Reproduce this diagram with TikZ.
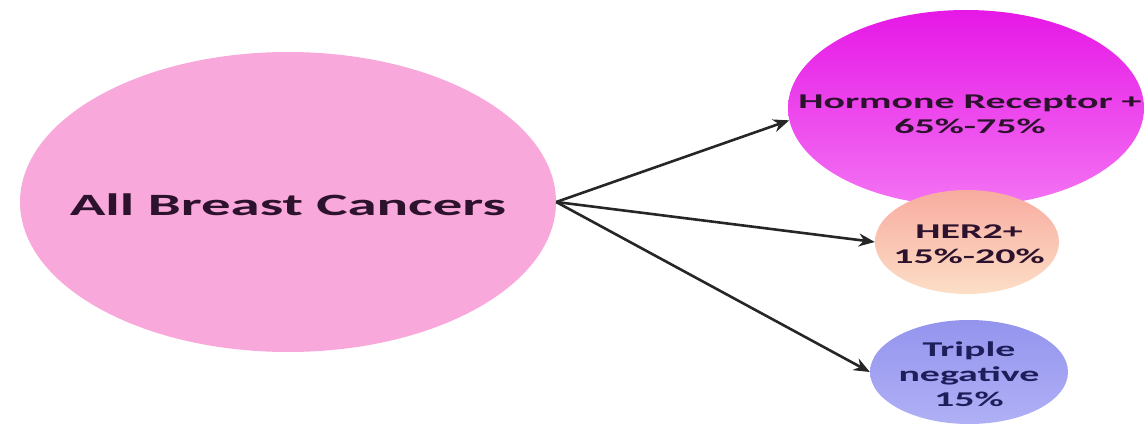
\documentclass[tikz,border=0pt]{standalone}
\usepackage{fontspec}
\setmainfont{Carlito}
\newfontfamily\widefont[FakeStretch=1.9]{Carlito}
\usepackage{xcolor}
\usetikzlibrary{arrows.meta,positioning,shapes.geometric}

\definecolor{allpink}{RGB}{248,168,218}
\definecolor{hrtop}{RGB}{230,24,230}
\definecolor{hrbot}{RGB}{243,115,243}
\definecolor{hertop}{RGB}{248,172,160}
\definecolor{herbot}{RGB}{252,222,198}
\definecolor{tntop}{RGB}{148,148,238}
\definecolor{tnbot}{RGB}{176,176,246}
\definecolor{inkdark}{RGB}{45,18,45}
\definecolor{inkblue}{RGB}{30,30,90}

\begin{document}
\begin{tikzpicture}[x=1pt,y=-1pt,
  blob/.style={ellipse, inner sep=0pt, draw=none},
  big/.style={font=\widefont\bfseries\fontsize{31}{36}\selectfont, text=inkdark},
  small/.style={font=\widefont\bfseries\fontsize{21}{25}\selectfont, align=center, text=inkdark},
  link/.style={draw=black!85, line width=2.6pt, -{Stealth[length=16pt,width=13pt]}}
]
\useasboundingbox (0,0) rectangle (1148,425);

\node[blob, fill=allpink, minimum width=536pt, minimum height=300pt] (all) at (288,202) {};
\node[big] (alltext) at (288,205) {All Breast Cancers};

\node[blob, top color=hrtop, bottom color=hrbot, minimum width=356pt, minimum height=196pt] (hr) at (966,108) {};
\node[small] (hrtext) at (970,114) {Hormone Receptor +\\65\%-75\%};

\node[blob, top color=hertop, bottom color=herbot, minimum width=184pt, minimum height=104pt] (her) at (967,242) {};
\node[small] (hertext) at (969,244) {HER2+\\15\%-20\%};

\node[blob, top color=tntop, bottom color=tnbot, minimum width=198pt, minimum height=104pt] (tn) at (969,372) {};
\node[small, text=inkblue] (tntext) at (969,374) {Triple\\negative\\15\%};

\draw[link] (all.east) -- (hr.184);
\draw[link] (all.east) -- (her.west);
\draw[link] (all.east) -- (tn.west);
\end{tikzpicture}
\end{document}
